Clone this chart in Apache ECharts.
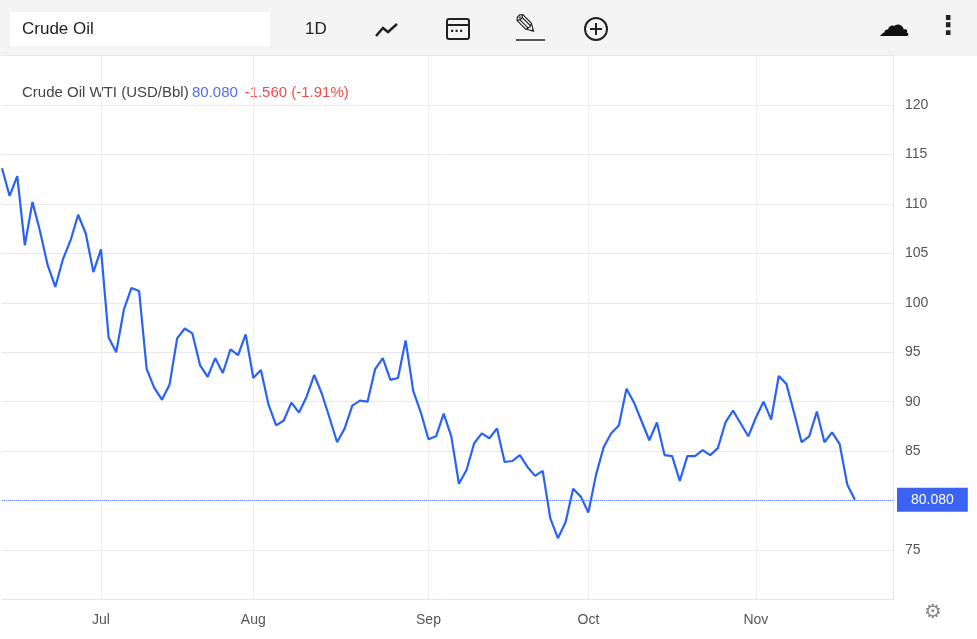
<!DOCTYPE html>
<html>
<head>
<meta charset="utf-8">
<script src="https://cdn.jsdelivr.net/npm/echarts@6/dist/echarts.min.js"></script>
<style>
  html, body { margin: 0; padding: 0; background: #fff; }
  #chart { width: 977px; height: 639px; }
</style>
</head>
<body>
<div id="chart"></div>
<script>
// daily WTI closes
var prices = [
  113.6, 110.8, 112.8, 105.8, 110.2, 107.2, 103.8, 101.6, 104.4, 106.3,
  108.9, 107.0, 103.1, 105.4, 96.5, 95.0, 99.3, 101.5, 101.2, 93.3,
  91.4, 90.2, 91.7, 96.4, 97.4, 96.9, 93.7, 92.5, 94.4, 92.9,
  95.3, 94.7, 96.8, 92.4, 93.2, 89.7, 87.6, 88.1, 89.9, 88.9,
  90.5, 92.7, 90.8, 88.4, 85.9, 87.3, 89.6, 90.1, 90.0, 93.3,
  94.4, 92.2, 92.4, 96.2, 91.1, 88.9, 86.2, 86.5, 88.8, 86.5,
  81.7, 83.1, 85.8, 86.8, 86.3, 87.3, 83.9, 84.0, 84.6, 83.4,
  82.5, 83.0, 78.2, 76.2, 77.8, 81.2, 80.4, 78.8, 82.6, 85.4,
  86.8, 87.6, 91.3, 89.9, 88.0, 86.1, 87.9, 84.6, 84.5, 82.0,
  84.5, 84.5, 85.1, 84.6, 85.3, 87.9, 89.1, 87.8, 86.5, 88.4,
  90.0, 88.2, 92.6, 91.8, 88.9, 85.9, 86.5, 89.0, 85.9, 86.9,
  85.7, 81.6, 80.08
];
var padSlots = 5;
var monthIdx = [13, 33, 56, 77, 99];
var monthNames = ['Jul', 'Aug', 'Sep', 'Oct', 'Nov'];
var lastPrice = 80.080;
var changeText = '-1.560 (-1.91%)';

var cats = [];
var series = [];
for (var i = 0; i < prices.length + padSlots; i++) {
  cats.push(i);
  series.push(i < prices.length ? prices[i] : null);
}
var isMonth = function (idx) { return monthIdx.indexOf(idx) >= 0; };

var myChart = echarts.init(document.getElementById('chart'));
myChart.setOption({
  animation: false,
  textStyle: { fontFamily: 'Arial, Liberation Sans, sans-serif' },
  graphic: [
    { type: 'rect', left: 0, top: 0, shape: { width: 977, height: 56 }, style: { fill: '#f4f4f4' } },
    { type: 'rect', left: 10, top: 12, shape: { width: 260, height: 34 }, style: { fill: '#fff' } },
    { type: 'text', left: 22, top: 21, style: { text: 'Crude Oil', fill: '#222', font: '17px Arial' } },
    { type: 'text', left: 305, top: 21, style: { text: '1D', fill: '#222', font: '17px Arial' } },
    { type: 'polyline', shape: { points: [[376, 36], [383, 28], [388, 32], [397, 24]] },
      style: { stroke: '#222', lineWidth: 2.5, fill: null } },
    { type: 'rect', shape: { x: 447, y: 19, width: 22, height: 20, r: 2 }, style: { stroke: '#222', lineWidth: 2, fill: null } },
    { type: 'line', shape: { x1: 447, y1: 25, x2: 469, y2: 25 }, style: { stroke: '#222', lineWidth: 2 } },
    { type: 'text', left: 450, top: 26, style: { text: '∙∙∙', fill: '#222', font: 'bold 12px DejaVu Sans' } },
    { type: 'text', left: 514, top: 13, style: { text: '✎', fill: '#222', font: '28px DejaVu Sans' } },
    { type: 'line', shape: { x1: 516, y1: 40, x2: 545, y2: 40 }, style: { stroke: '#222', lineWidth: 1.5 } },
    { type: 'circle', shape: { cx: 596, cy: 29, r: 11 }, style: { stroke: '#222', lineWidth: 2, fill: null } },
    { type: 'line', shape: { x1: 590, y1: 29, x2: 602, y2: 29 }, style: { stroke: '#222', lineWidth: 2 } },
    { type: 'line', shape: { x1: 596, y1: 23, x2: 596, y2: 35 }, style: { stroke: '#222', lineWidth: 2 } },
    { type: 'text', left: 878, top: 12, style: { text: '☁', fill: '#111', font: '32px DejaVu Sans' } },
    { type: 'text', left: 935, top: 14, style: { text: '⋮', fill: '#222', font: 'bold 26px DejaVu Sans' } },
    { type: 'text', left: 924, top: 603, style: { text: '⚙', fill: '#888', font: '20px DejaVu Sans' } },
    { type: 'text', left: 22, top: 85, style: {
      text: '{a|Crude Oil WTI (USD/Bbl)} {b|' + lastPrice.toFixed(3) + '}  {c|' + changeText + '}',
      rich: {
        a: { fill: '#444', font: '15px Arial' },
        b: { fill: '#4f6cf0', font: '15px Arial' },
        c: { fill: '#ef4b4b', font: '15px Arial' }
      }
    } }
  ],
  grid: { left: 2, right: 84, top: 55.5, bottom: 39.5 },
  xAxis: {
    type: 'category',
    data: cats,
    boundaryGap: false,
    axisLine: { show: true, lineStyle: { color: '#e6e6e6' } },
    axisTick: { show: false },
    axisLabel: {
      interval: function (idx) { return isMonth(idx); },
      formatter: function (v) { return monthNames[monthIdx.indexOf(Number(v))]; },
      color: '#555', fontSize: 14, margin: 14
    },
    splitLine: {
      show: true,
      interval: function (idx) { return isMonth(idx); },
      lineStyle: { color: '#f0f0f0' }
    }
  },
  yAxis: {
    type: 'value',
    position: 'right',
    min: 70, max: 125, interval: 5,
    axisLine: { show: true, lineStyle: { color: '#e6e6e6' } },
    axisTick: { show: false },
    axisLabel: {
      color: '#555', fontSize: 14, margin: 12,
      formatter: function (v) { return (v === 70 || v === 125) ? '' : v; }
    },
    splitLine: { lineStyle: { color: '#e8e8e8' } }
  },
  series: [{
    type: 'line',
    data: series,
    symbol: 'none',
    lineStyle: { color: '#2a62f5', width: 2.2 },
    markLine: {
      symbol: 'none',
      silent: true,
      data: [{ yAxis: lastPrice }],
      lineStyle: { color: '#5b7cf5', type: 'dotted', width: 1 },
      label: {
        position: 'end',
        formatter: lastPrice.toFixed(3),
        color: '#fff',
        backgroundColor: '#3b63f3',
        padding: [5, 14, 5, 14],
        fontSize: 14,
        distance: 4
      }
    }
  }]
});
</script>
</body>
</html>
